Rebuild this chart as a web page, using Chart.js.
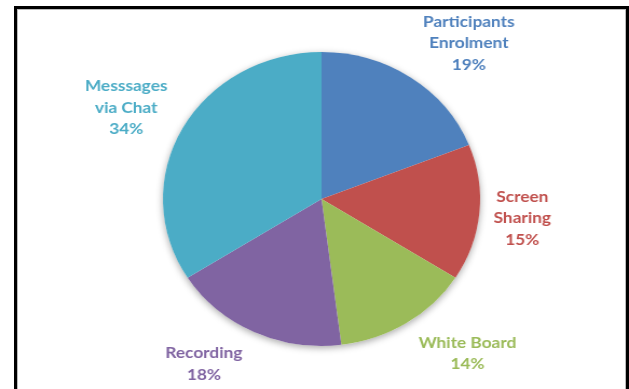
<!DOCTYPE html>
<html>
<head>
<meta charset="utf-8">
<script src="https://cdn.jsdelivr.net/npm/chart.js@4/dist/chart.umd.min.js"></script>
<style>
    html, body { margin: 0; padding: 0; background: #fff; overflow: hidden; }
    #stage { position: absolute; left: 0; top: 0; width: 583px; height: 389px; transform: scaleX(1.0789); transform-origin: 0 0; }
    #frame { position: absolute; left: 14px; top: 6px; width: 615px; height: 400px; box-sizing: border-box; border: 3px solid #000; box-shadow: inset 1px 1px 0 #bbb, inset -1px 0 0 #bbb; pointer-events: none; }
</style>
</head>
<body>
<div id="stage"><canvas id="pieChart"></canvas></div>
<div id="frame"></div>
<script>
const categories = ['Participants Enrolment', 'Screen Sharing', 'White Board', 'Recording', 'Messsages via Chat'];
const labelLines = [['Participants', 'Enrolment'], ['Screen', 'Sharing'], ['White Board'], ['Recording'], ['Messsages', 'via Chat']];
const shares = [19, 15, 14, 18, 34];
const colors = ['#4F81BD', '#C0504D', '#9BBB59', '#8064A2', '#4BACC6'];

// nudges so labels sit where the original put them
const labelNudge = [[23, 11], [-15, 0], [27, -16], [-23, -18], [-4, 6]];

const pieShadow = {
    id: 'pieShadow',
    beforeDatasetsDraw(chart) {
        const arc = chart.getDatasetMeta(0).data[0];
        if (!arc) return;
        const ctx = chart.ctx;
        ctx.save();
        ctx.shadowColor = 'rgba(0,0,0,0.35)';
        ctx.shadowBlur = 7;
        ctx.shadowOffsetY = 2;
        ctx.fillStyle = '#fff';
        ctx.beginPath();
        ctx.arc(arc.x, arc.y, arc.outerRadius, 0, Math.PI * 2);
        ctx.fill();
        ctx.restore();
    }
};

const sliceLabels = {
    id: 'sliceLabels',
    afterDatasetsDraw(chart) {
        const ctx = chart.ctx;
        ctx.save();
        ctx.font = 'bold 16px Lato, "Open Sans", sans-serif';
        ctx.textAlign = 'center';
        ctx.textBaseline = 'middle';
        chart.getDatasetMeta(0).data.forEach((arc, i) => {
            const mid = (arc.startAngle + arc.endAngle) / 2;
            const r = arc.outerRadius + 55;
            const x = arc.x + Math.cos(mid) * r + labelNudge[i][0];
            const y = arc.y + Math.sin(mid) * r + labelNudge[i][1];
            const lines = labelLines[i].concat([shares[i] + '%']);
            const lh = 21.5;
            const top = y - (lines.length - 1) * lh / 2;
            ctx.fillStyle = colors[i];
            lines.forEach((t, k) => ctx.fillText(t, x, top + k * lh));
        });
        ctx.restore();
    }
};

new Chart(document.getElementById('pieChart'), {
    type: 'pie',
    data: {
        labels: categories,
        datasets: [{
            data: shares,
            backgroundColor: colors,
            borderWidth: 0
        }]
    },
    options: {
        responsive: true,
        maintainAspectRatio: false,
        animation: false,
        layout: { padding: { left: 151, right: 138, top: 52, bottom: 43 } },
        plugins: {
            legend: { display: false },
            tooltip: { enabled: false }
        }
    },
    plugins: [pieShadow, sliceLabels]
});
</script>
</body>
</html>
